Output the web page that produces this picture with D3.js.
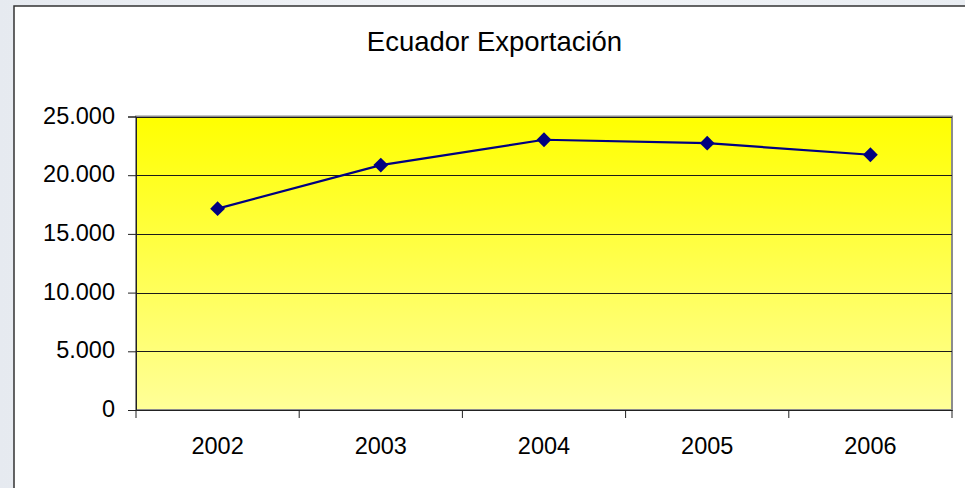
<!DOCTYPE html>
<html>
<head>
<meta charset="utf-8">
<script src="https://cdn.jsdelivr.net/npm/d3@7"></script>
<style>
  html, body { margin: 0; padding: 0; }
  body { width: 965px; height: 488px; overflow: hidden; background: #eef1f5; }
  svg text { font-family: "Liberation Sans", Arial, sans-serif; fill: #000; }
</style>
</head>
<body>
<svg id="chart" width="965" height="488"></svg>
<script>
const years = ["2002", "2003", "2004", "2005", "2006"];
const exports = [17150, 20860, 23020, 22730, 21740];
const yTicks = [0, 5000, 10000, 15000, 20000, 25000];
const title = "Ecuador Exportación";

const plot = {left: 136, top: 116.5, right: 952, bottom: 410};

const locale = d3.formatLocale({decimal: ",", thousands: ".", grouping: [3], currency: ["", ""]});
const fmt = locale.format(",.0f");

const svg = d3.select("#chart");

// soft background behind the chart frame
let defs = svg.append('defs');
let bg = defs.append('linearGradient').attr('id', "bg")
    .attr('x1', 0).attr('y1', 0).attr('x2', 1).attr('y2', 0);
bg.append('stop').attr('offset', "0%").attr('stop-color', "#e6eaf0");
bg.append('stop').attr('offset', "50%").attr('stop-color', "#f3f5f8");
bg.append('stop').attr('offset', "100%").attr('stop-color', "#e9edf2");
svg.append('rect').attr('width', 965).attr('height', 488).attr('fill', "url(#bg)");

// chart frame (runs off the right and bottom edges)
svg.append('rect')
    .attr('x', 14).attr('y', 6)
    .attr('width', 1000).attr('height', 600)
    .attr('fill', "#fff")
    .attr('stroke', "#333").attr('stroke-width', 1.5);

let fill = defs.append('linearGradient').attr('id', "plotfill")
    .attr('x1', 0).attr('y1', 0).attr('x2', 0).attr('y2', 1);
fill.append('stop').attr('offset', "0%").attr('stop-color', "#ffff00");
fill.append('stop').attr('offset', "100%").attr('stop-color', "#ffff99");

const x = d3.scaleBand().domain(years).range([plot.left, plot.right]).padding(0);
const y = d3.scaleLinear().domain([0, 25000]).range([plot.bottom, plot.top]);

svg.append('rect')
    .attr('x', plot.left).attr('y', plot.top)
    .attr('width', plot.right - plot.left).attr('height', plot.bottom - plot.top)
    .attr('fill', "url(#plotfill)")
    .attr('stroke', "#8c8c8c").attr('stroke-width', 2);

// gridlines
svg.append('g').selectAll('line')
    .data(yTicks.filter(d => d > 0))
    .join('line')
    .attr('x1', plot.left).attr('x2', plot.right)
    .attr('y1', d => Math.round(y(d)) + 0.5).attr('y2', d => Math.round(y(d)) + 0.5)
    .attr('stroke', "#1a1a1a").attr('stroke-width', 1.2);

// y axis
let yAxis = svg.append('g')
    .attr('transform', `translate(${plot.left},0)`)
    .call(d3.axisLeft(y).tickValues(yTicks).tickSize(8).tickPadding(13).tickFormat(fmt));
yAxis.select('.domain').attr('stroke', "#222");
yAxis.selectAll('.tick line').attr('stroke', "#222");
yAxis.selectAll('text').attr('font-size', 23.5).attr('dy', "0.28em")
    .style('font-family', '"Liberation Sans", Arial, sans-serif');

// x axis: labels centred in the bands, ticks at the band edges
let xAxis = svg.append('g')
    .attr('transform', `translate(0,${plot.bottom})`)
    .call(d3.axisBottom(x).tickSize(0).tickPadding(27));
xAxis.select('.domain').attr('stroke', "#222");
xAxis.selectAll('text').attr('font-size', 23.5)
    .style('font-family', '"Liberation Sans", Arial, sans-serif');
let edges = years.map(d => x(d)).concat([x(years[years.length - 1]) + x.bandwidth()]);
xAxis.append('g').selectAll('line')
    .data(edges)
    .join('line')
    .attr('x1', d => d).attr('x2', d => d)
    .attr('y1', 0).attr('y2', 8)
    .attr('stroke', "#222");

// series line and diamond markers
const pts = years.map((yr, i) => ({yr: yr, v: exports[i]}));
const line = d3.line().x(d => x(d.yr) + x.bandwidth() / 2).y(d => y(d.v));
svg.append('path')
    .datum(pts)
    .attr('d', line)
    .attr('fill', "none")
    .attr('stroke', "#000080").attr('stroke-width', 2.2);

svg.append('g').selectAll('path')
    .data(pts)
    .join('path')
    .attr('d', d3.symbol(d3.symbolSquare, 110))
    .attr('transform', d => `translate(${x(d.yr) + x.bandwidth() / 2},${y(d.v)}) rotate(45)`)
    .attr('fill', "#000080");

// title
svg.append('text')
    .attr('x', 494.5).attr('y', 51)
    .attr('text-anchor', "middle")
    .attr('font-size', 27.5)
    .text(title);
</script>
</body>
</html>
